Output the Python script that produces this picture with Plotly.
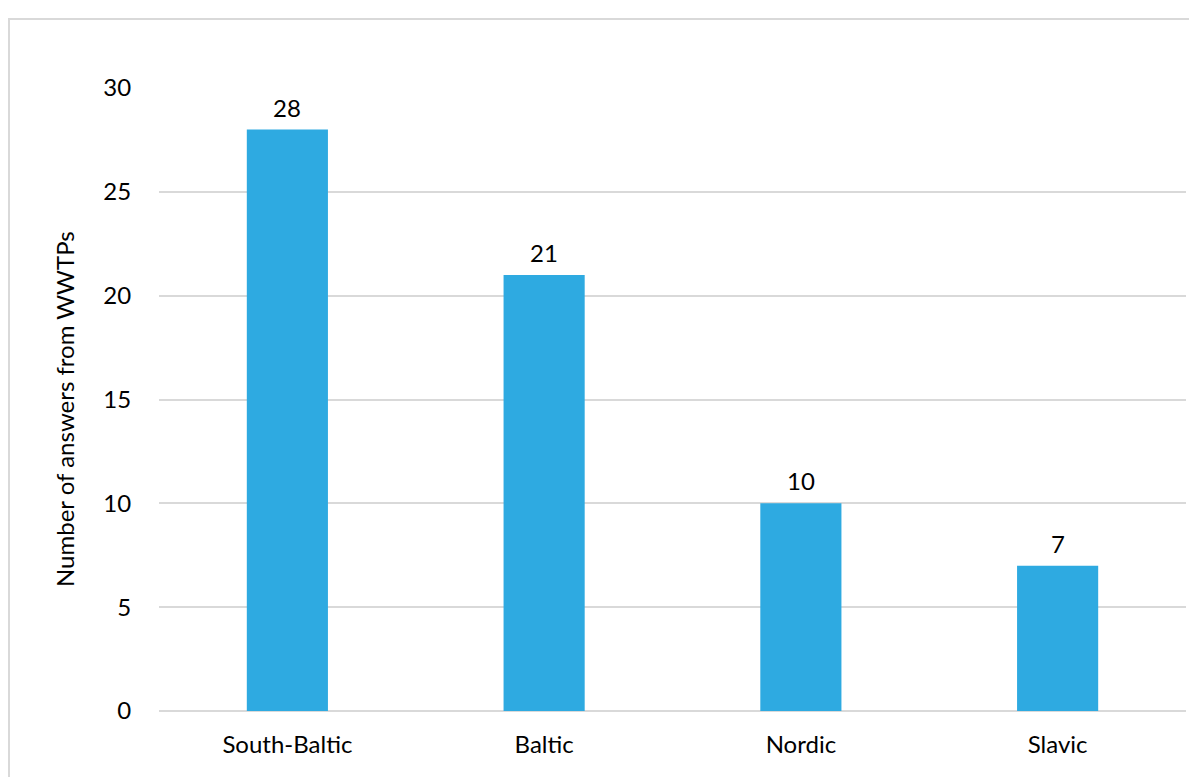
import plotly.graph_objects as go

regions = ["South-Baltic", "Baltic", "Nordic", "Slavic"]
answers = [28, 21, 10, 7]
y_ticks = [0, 5, 10, 15, 20, 25, 30]

W, H = 1189, 777
ML, MR, MT, MB = 159, 3, 88, 66
pw, ph = W - ML - MR, H - MT - MB

BAR = "#2EAAE1"
GRID = "#D9D9D9"
FONT = "Lato, 'Open Sans', sans-serif"
FS = 24

fig = go.Figure(
    go.Bar(
        x=regions,
        y=answers,
        marker=dict(color=BAR, line=dict(width=0)),
        width=0.316,
        hoverinfo="x+y",
    )
)

# value labels above each bar
for r, v in zip(regions, answers):
    fig.add_annotation(
        x=r, y=v, text=str(v), showarrow=False,
        yanchor="bottom", yshift=6,
        font=dict(family=FONT, size=FS, color="#000000"),
    )

# y-axis title placed as a rotated annotation
fig.add_annotation(
    xref="paper", yref="paper",
    x=(64 - ML) / pw, y=(H - MB - 409) / ph,
    text="Number of answers from WWTPs", textangle=-90, showarrow=False,
    xanchor="center", yanchor="middle",
    font=dict(family=FONT, size=FS, color="#000000"),
)

# outer chart frame
fig.add_shape(
    type="rect", xref="paper", yref="paper",
    x0=(9 - ML) / pw, x1=(W + 10 - ML) / pw,
    y0=-(MB + 10) / ph, y1=(H - 19 - MB) / ph,
    line=dict(color=GRID, width=2), fillcolor="rgba(0,0,0,0)", layer="below",
)

fig.update_layout(
    width=W, height=H,
    margin=dict(l=ML, r=MR, t=MT, b=MB),
    paper_bgcolor="white", plot_bgcolor="white",
    showlegend=False,
    font=dict(family=FONT, size=FS, color="#000000"),
    xaxis=dict(
        showgrid=False, showline=False, zeroline=False,
        ticks="outside", ticklen=12, tickcolor="rgba(0,0,0,0)",
        tickfont=dict(size=FS),
    ),
    yaxis=dict(
        range=[0, 30], tickvals=y_ticks,
        showgrid=True, gridcolor=GRID, gridwidth=2,
        zeroline=True, zerolinecolor=GRID, zerolinewidth=2,
        showline=False,
        ticks="outside", ticklen=22, tickcolor="rgba(0,0,0,0)",
        tickfont=dict(size=FS),
    ),
)

fig.write_html("out.html")
